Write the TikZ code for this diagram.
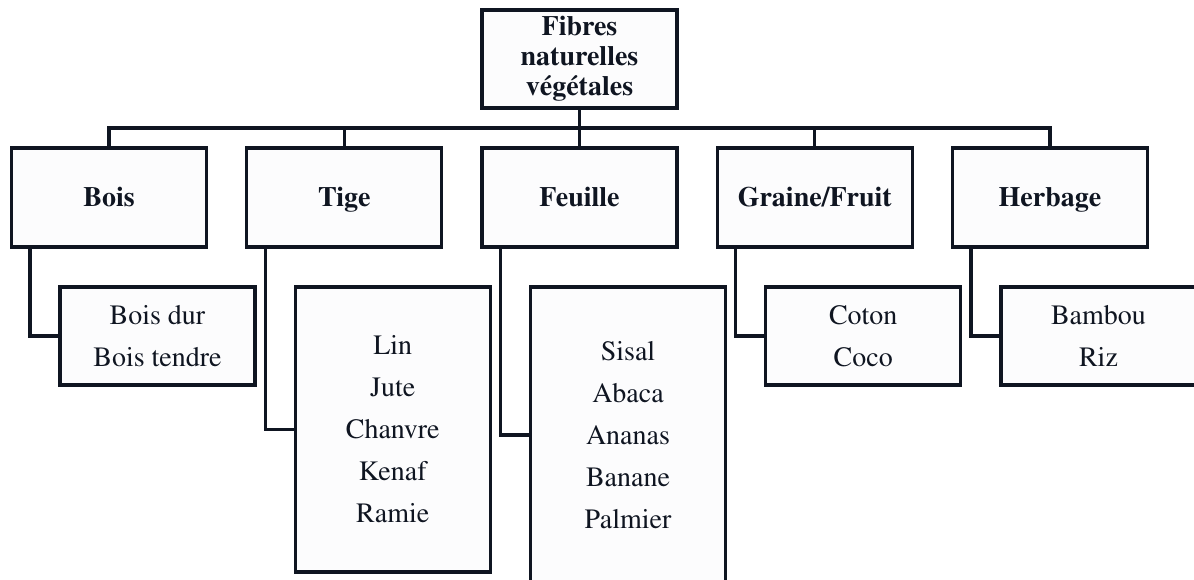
\documentclass[tikz,border=0pt]{standalone}
\usepackage[T1]{fontenc}
\usepackage{mathptmx}
\usetikzlibrary{positioning}
\definecolor{ink}{HTML}{0F1521}
\definecolor{paper}{HTML}{FCFCFD}

\begin{document}
\begin{tikzpicture}[x=1pt,y=-1pt,
  box/.style={
    draw=ink,
    fill=paper,
    line width=3.2pt,
    inner sep=0pt,
    text=ink,
    minimum width=195pt,
    align=center},
  top/.style={box, minimum height=98pt, font=\fontsize{28}{30}\selectfont\bfseries},
  cat/.style={top, minimum height=99pt, text height=19pt, text depth=0pt},
  leaf/.style={box, minimum height=#1, font=\fontsize{28}{42}\selectfont},
  link/.style={draw=ink, line width=3.2pt}]
  \useasboundingbox (0,0) rectangle (1194,580);
  \clip (0,0) rectangle (1194,580);
  % draw root node and bus
  \node[top] (root) at (579.5,59) {Fibres\\naturelles\\végétales};
  \coordinate (bus) at (579.5,128);
  \draw[link] (root.south) -- (bus);
  % draw category nodes
  \foreach \t [count=\step from 1] in {Bois,Tige,Feuille,{Graine/Fruit},Herbage} {
    \node[cat] (c\step) at (109+235.25*\step-235.25, 197.5) {\t};
    \draw[link] (c\step.north) |- (bus);
  }
  % draw leaf nodes with the fibre names
  \foreach \h/\y/\t [count=\step from 1] in {
      98/336/{Bois dur\\Bois tendre},
      285/429.5/{Lin\\Jute\\Chanvre\\Kenaf\\Ramie},
      296/435/{Sisal\\Abaca\\Ananas\\Banane\\Palmier},
      98/336/{Coton\\Coco},
      98/336/{Bambou\\Riz}} {
    \node[leaf=\h pt] (s\step) at (157.5+235.25*\step-235.25, \y) {\t};
    \draw[link] ([xshift=20pt]c\step.south west) |- (s\step.west);
  }
\end{tikzpicture}
\end{document}
